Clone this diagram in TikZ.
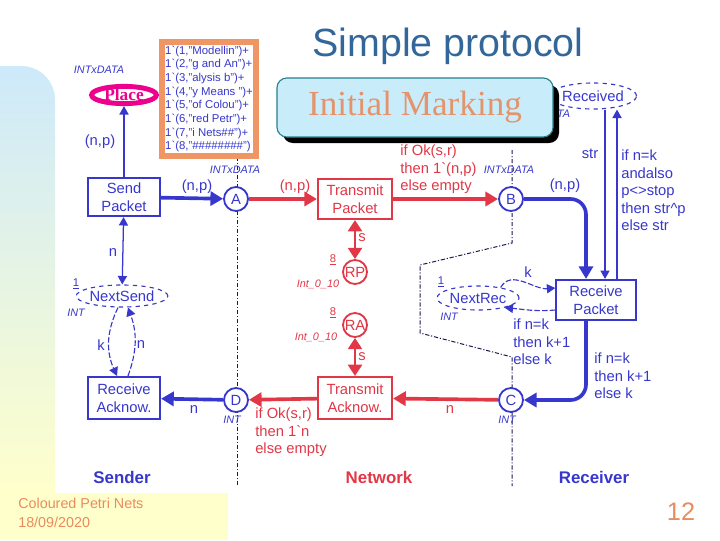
\documentclass[tikz,border=0pt]{standalone}
\usepackage{fontspec}
\setmainfont{Liberation Sans}
\newfontfamily\romanfont{Liberation Serif}
\usetikzlibrary{arrows.meta}
\usetikzlibrary{positioning,calc}
\usetikzlibrary{shapes.geometric}

\definecolor{cpnblue}{RGB}{55,55,205}
\definecolor{cpnred}{RGB}{225,55,70}
\definecolor{divnavy}{RGB}{25,25,80}
\definecolor{markorange}{RGB}{240,150,100}
\definecolor{inittext}{RGB}{228,148,108}
\definecolor{calloutfill}{RGB}{200,236,250}
\definecolor{calloutedge}{RGB}{40,130,140}
\definecolor{titleblue}{RGB}{51,102,153}
\definecolor{bandblue}{RGB}{205,233,250}
\definecolor{bandyellow}{RGB}{255,255,204}
\definecolor{footorange}{RGB}{232,140,95}

\newcommand{\bq}{\textasciigrave}

\tikzset{
  trans/.style={draw=#1, line width=1.5pt, fill=white, text=#1, align=center,
    minimum width=1.85cm, minimum height=1.0cm, inner sep=1pt,
    font=\fontsize{10.5}{12.5}\selectfont},
  cplace/.style={circle, draw=#1, line width=1.3pt, fill=white, text=#1,
    minimum size=0.6cm, inner sep=0pt, font=\fontsize{10.5}{12.5}\selectfont},
  dplace/.style={ellipse, draw=cpnblue, dashed, line width=0.8pt, fill=white,
    text=cpnblue, inner sep=0pt, font=\fontsize{10.5}{12.5}\selectfont},
  thickarc/.style={draw=#1, line width=2.6pt, -{Triangle[length=9pt,width=10pt]}},
  thinarc/.style={draw=cpnblue, line width=0.9pt, -{Triangle[length=6pt,width=6.5pt]}},
  dasharc/.style={draw=cpnblue, line width=0.8pt, dash pattern=on 4pt off 1.5pt,
    -{Triangle[length=6pt,width=6.5pt]}},
  dblarc/.style={draw=cpnred, line width=1.6pt,
    {Triangle[length=8pt,width=10pt]}-{Triangle[length=8pt,width=10pt]}},
  lbl/.style={text=#1, inner sep=0pt, font=\fontsize{10.5}{12.5}\selectfont},
  guard/.style={text=#1, inner sep=0pt, align=left, anchor=north west,
    font=\fontsize{10.5}{12.5}\selectfont},
  colset/.style={text=#1, inner sep=0pt, font=\fontsize{7.7}{9}\selectfont\itshape},
  divider/.style={draw=divnavy, line width=0.7pt,
    dash pattern=on 3pt off 1.3pt on 0.8pt off 1.3pt},
  section/.style={text=#1, font=\fontsize{12}{14}\selectfont\bfseries},
}

\begin{document}
\begin{tikzpicture}[x=0.025cm, y=-0.025cm]
  \useasboundingbox (0,0) rectangle (720,540);

  % slide background
  \shade[top color=bandblue, bottom color=bandyellow]
    (0,493) -- (0,66) [rounded corners=24pt] -- (55,66) [sharp corners] -- (55,493) -- cycle;
  \fill[bandyellow] (0,493) rectangle (228,540);

  \node[text=titleblue, font=\fontsize{28}{30}\selectfont] (title) at (448,46) {Simple protocol};

  % sender | network | receiver borders
  \draw[divider] (237,148) -- (237,486);
  \draw[divider] (512,150) -- (512,243) -- (420,265) -- (420,333) -- (512,357) -- (512,486);

  % initial marking of Place
  \node[draw=markorange, line width=4pt, fill=white, minimum width=2.35cm, minimum height=2.85cm,
        align=left, inner sep=0pt, text=cpnblue,
        font=\fontsize{8.1}{9.7}\selectfont] (marking) at (209,99)
    {1\bq(1,"Modellin")+\\1\bq(2,"g and An")+\\1\bq(3,"alysis b")+\\1\bq(4,"y Means ")+\\
     1\bq(5,"of Colou")+\\1\bq(6,"red Petr")+\\1\bq(7,"i Nets\#\#")+\\1\bq(8,"\#\#\#\#\#\#\#\#")};

  \node[ellipse, draw=magenta, line width=3.5pt, fill=white, minimum width=1.62cm,
        minimum height=0.43cm, inner sep=0pt, text=magenta,
        font=\romanfont\bfseries\fontsize{12.3}{14}\selectfont] (place) at (124,95) {Place};
  \node[colset=cpnblue] (placecs) at (99,70) {INTxDATA};

  \node[dplace, minimum width=1.83cm, minimum height=0.65cm] (received) at (593,96) {Received};
  \node[colset=cpnblue] (receivedcs) at (545,114) {INTxDATA};

  % callout with its shadow
  \fill[black, rounded corners=7pt] (283,85) rectangle (559,143);
  \node[rounded corners=7pt, draw=calloutedge, line width=0.8pt, fill=calloutfill,
        minimum width=6.9cm, minimum height=1.475cm, text=inittext,
        font=\romanfont\fontsize{25}{27}\selectfont] (initmark) at (415,107.5) {Initial Marking};

  % sender
  \node[trans=cpnblue, minimum width=1.8cm, minimum height=0.95cm] (sendpkt) at (124,197) {Send\\Packet};
  \node[dplace, minimum width=1.75cm, minimum height=0.55cm] (nextsend) at (122,296) {NextSend};
  \node[trans=cpnblue, minimum width=1.8cm, minimum height=1.05cm] (recack) at (124,398) {Receive\\Acknow.};

  % network
  \node[cplace=cpnblue] (placeA) at (236,199) {A};
  \node[cplace=cpnblue] (placeB) at (511,199) {B};
  \node[cplace=cpnblue] (placeC) at (511,400) {C};
  \node[cplace=cpnblue] (placeD) at (236,400) {D};
  \node[trans=cpnred] (transpkt) at (355,199) {Transmit\\Packet};
  \node[trans=cpnred, minimum height=1.05cm] (transack) at (355,398) {Transmit\\Acknow.};
  \node[cplace=cpnred] (rp) at (355,272) {RP};
  \node[cplace=cpnred] (ra) at (355,325) {RA};

  % receiver
  \node[trans=cpnblue, minimum width=1.98cm] (recpkt) at (596,300) {Receive\\Packet};
  \node[dplace, minimum width=2.05cm, minimum height=0.6cm] (nextrec) at (478,298) {NextRec};

  % arcs
  \draw[thinarc] (sendpkt) -- (place);
  \draw[thickarc=cpnblue] (sendpkt) -- (placeA);
  \draw[thickarc=cpnred] (placeA) -- (transpkt);
  \draw[thickarc=cpnred] (transpkt) -- (placeB);
  \draw[thickarc=cpnblue, rounded corners=11pt] (placeB) -| ([xshift=-0.25cm]recpkt.north);
  \draw[thinarc] ([xshift=0.525cm]recpkt.north) -- ([xshift=0.525cm]recpkt.north |- received.south);
  \draw[thinarc] ([xshift=0.225cm]recpkt.north |- received.south) -- ([xshift=0.225cm]recpkt.north);
  \draw[thickarc=cpnblue, rounded corners=11pt] ([xshift=-0.25cm]recpkt.south) |- (placeC);
  \draw[thickarc=cpnred] (placeC) -- (transack);
  \draw[thickarc=cpnred] (transack) -- (placeD);
  \draw[thickarc=cpnblue] (placeD) -- (recack);
  \draw[thinarc, {Triangle[length=6pt,width=6.5pt]}-{Triangle[length=6pt,width=6.5pt]}] (sendpkt) -- (nextsend);
  \draw[dasharc] ([xshift=-0.1cm]nextsend.south) to[bend right=25] ([xshift=-0.175cm]recack.north);
  \draw[dasharc] ([xshift=0.1cm]recack.north) to[bend right=20] ([xshift=0.15cm]nextsend.south);
  \draw[dblarc] (transpkt) -- (rp);
  \draw[dblarc] (ra) -- (transack);
  \draw[dasharc] (nextrec.25) to[out=60, in=185] ([yshift=0.3cm]recpkt.west);
  \draw[dasharc] ([yshift=-0.25cm]recpkt.west) to[out=185, in=-5] (nextrec.-20);

  % arc inscriptions
  \node[lbl=cpnblue] (insc1) at (100,142) {(n,p)};
  \node[lbl=cpnblue] (insc2) at (197,187) {(n,p)};
  \node[lbl=cpnred]  (insc3) at (295,187) {(n,p)};
  \node[lbl=cpnblue] (insc4) at (565,186) {(n,p)};
  \node[lbl=cpnblue] (insc5) at (590,154) {str};
  \node[lbl=cpnblue] (insc6) at (113,253) {n};
  \node[lbl=cpnblue] (insc7) at (101,345) {k};
  \node[lbl=cpnblue] (insc8) at (141,345) {n};
  \node[lbl=cpnblue] (insc9) at (194,410) {n};
  \node[lbl=cpnred]  (insc10) at (450,410) {n};
  \node[lbl=cpnred]  (insc11) at (362,238) {s};
  \node[lbl=cpnred]  (insc12) at (362,357) {s};
  \node[lbl=cpnblue] (insc13) at (528,272) {k};

  \node[guard=cpnred] (guardtp) at (400,144.5) {if Ok(s,r)\\then 1\bq(n,p)\\else empty};
  \node[guard=cpnred] (guardta) at (255,407.5) {if Ok(s,r)\\then 1\bq n\\else empty};
  \node[guard=cpnblue] (guardstr) at (621,149.5)
    {if n=k\\andalso\\p<>stop\\then str\textasciicircum p\\else str};
  \node[guard=cpnblue] (guardnr) at (513,318.5) {if n=k\\then k+1\\else k};
  \node[guard=cpnblue] (guardc) at (594,352.5) {if n=k\\then k+1\\else k};

  % colour sets and initial tokens
  \node[colset=cpnblue] (cs1) at (235,170) {INTxDATA};
  \node[colset=cpnblue] (cs2) at (509,170) {INTxDATA};
  \node[colset=cpnblue] (cs3) at (76,313) {INT};
  \node[colset=cpnblue] (cs4) at (449,317) {INT};
  \node[colset=cpnblue] (cs5) at (232,420) {INT};
  \node[colset=cpnblue] (cs6) at (507,420) {INT};
  \node[colset=cpnred] (cs7) at (318,284) {Int\_0\_10};
  \node[colset=cpnred] (cs8) at (316,337) {Int\_0\_10};
  \node[lbl=cpnblue, font=\fontsize{8}{9}\selectfont] (tok1) at (76,284) {\underline{1}};
  \node[lbl=cpnblue, font=\fontsize{8}{9}\selectfont] (tok2) at (441,282) {\underline{1}};
  \node[lbl=cpnred, font=\fontsize{8}{9}\selectfont] (tok3) at (333,260) {\underline{8}};
  \node[lbl=cpnred, font=\fontsize{8}{9}\selectfont] (tok4) at (333,313) {\underline{8}};

  % parts
  \node[section=cpnblue] (sender) at (122,477) {Sender};
  \node[section=cpnred] (network) at (379,477) {Network};
  \node[section=cpnblue] (receiver) at (594,477) {Receiver};

  % footer
  \node[anchor=west, align=left, text=footorange, inner sep=0pt,
        font=\fontsize{10.2}{13.5}\selectfont] (footer) at (18,512.5) {Coloured Petri Nets\\18/09/2020};
  \node[text=footorange, font=\fontsize{18}{20}\selectfont] (pageno) at (681,512) {12};
\end{tikzpicture}
\end{document}
